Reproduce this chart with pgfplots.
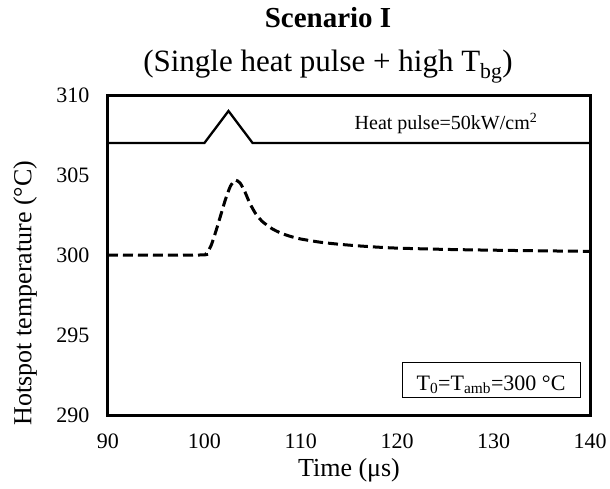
\documentclass[border=0pt]{standalone}
\usepackage{pgfplots}
\pgfplotsset{compat=1.18}
\usepackage{fontspec}
\setmainfont{Liberation Serif}
\begin{document}
\begin{tikzpicture}
\begin{axis}[
  scale only axis,
  width=482pt, height=320pt,
  xmin=90, xmax=140, ymin=290, ymax=310,
  xtick={90,100,...,140}, ytick={290,295,...,310},
  major tick length=0pt,
  axis line style={line width=3pt},
  /pgf/number format/assume math mode=true,
  tick label style={font=\fontsize{22}{26}\selectfont},
  xticklabel style={yshift=-15pt},
  yticklabel style={xshift=-15pt},
  clip=false,
]
\addplot[black, line width=2.3pt] coordinates {(90,307) (100,307) (102.5,309) (105,307) (140,307)};
\addplot[black, line width=3pt, dash pattern=on 10pt off 5pt, smooth, tension=0.4] coordinates {
(90,300) (99.5,300) (100.2,300.1) (100.7,300.6) (101.2,301.5) (101.7,302.5) (102.2,303.5) (102.7,304.3) (103.2,304.68) (103.7,304.5) (104.2,303.95) (104.7,303.25) (105.3,302.6) (106,302.1) (107,301.65) (108,301.35) (109,301.15) (110,301.0) (112,300.8) (114,300.67) (116,300.57) (118,300.49) (120,300.43) (125,300.35) (130,300.3) (135,300.26) (140,300.23)};
\end{axis}
% annotations and titles (pt coordinates, origin at axis lower left)
\node[anchor=base, font=\fontsize{20}{24}\selectfont] at (338pt,285pt) {Heat pulse=50kW/cm\textsuperscript{2}};
\draw[line width=1pt] (294pt,18pt) rectangle (472pt,53pt);
\node[anchor=base, font=\fontsize{22}{26}\selectfont] at (383pt,25pt) {T\textsubscript{0}=T\textsubscript{amb}=300 °C};
\node[anchor=base, font=\bfseries\fontsize{29}{34}\selectfont] at (220pt,387pt) {Scenario I};
\node[anchor=base, font=\fontsize{31}{36}\selectfont] at (220pt,343pt) {(Single heat pulse + high T\textsubscript{bg})};
\node[anchor=center, font=\fontsize{26}{30}\selectfont] at (241pt,-55pt) {Time (μs)};
\node[anchor=center, rotate=90, font=\fontsize{26}{30}\selectfont] at (-83pt,122pt) {Hotspot temperature (°C)};
\pgfresetboundingbox
\useasboundingbox (-108pt,-73pt) rectangle (502pt,415pt);
\end{tikzpicture}
\end{document}
